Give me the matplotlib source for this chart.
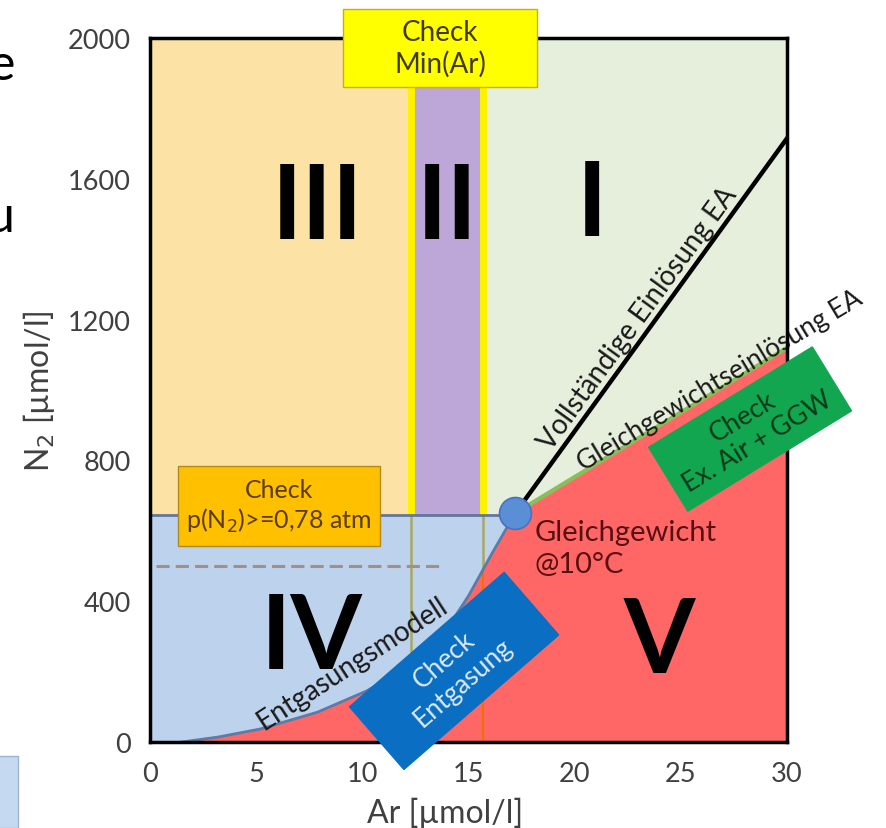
import numpy as np
import matplotlib
matplotlib.use('Agg')
import matplotlib.pyplot as plt
import matplotlib.patches as mpatches
import matplotlib.transforms as mtransforms

plt.rcParams['font.family'] = ['Lato', 'DejaVu Sans']

# boundaries in µmol/l
n2_air = 645                 # p(N2) = 0,78 atm
ar_min = [12.3, 15.7]        # Check Min(Ar) band
eq_ar, eq_n2 = 17.2, 650     # Gleichgewicht @10°C
ea_full_n2_end = 1715        # Vollständige Einlösung EA at Ar=30
ea_equil_n2_end = 1120       # Gleichgewichtseinlösung EA at Ar=30
n2_dashed = 500
dashed_ar = [0.3, 13.6]

# Entgasungsmodell curve
degas_ar = [1.5, 3.2, 5.2, 7.9, 10.2, 12.2, 13.7, 15.0, 16.1, 17.2]
degas_n2 = [0, 14, 37, 85, 145, 215, 295, 415, 535, 650]

# region labels
regions = ['III', 'II', 'I', 'IV', 'V']
region_ar = [7.9, 14.0, 20.8, 7.6, 24.0]
region_n2 = [1518, 1518, 1525, 295, 285]

xticks = [0, 5, 10, 15, 20, 25, 30]
yticks = [0, 400, 800, 1200, 1600, 2000]

fig = plt.figure(figsize=(8.86, 8.29), dpi=100)
ax = fig.add_axes([150/886, 86/829, 637/886, 704/829])
ax.set_xlim(0, 30)
ax.set_ylim(0, 2000)

# background regions
ax.set_facecolor('#E6EEDC')
ax.fill_between([0, ar_min[0]], n2_air, 2000, color='#FDE2A6', lw=0)
ax.fill_between(ar_min, n2_air, 2000, color='#BDA6D8', lw=0)
ax.fill_between([0, eq_ar], 0, n2_air, color='#BDD2EC', lw=0)
red_x = degas_ar + [30, 30]
red_y = degas_n2 + [ea_equil_n2_end, 0]
ax.fill(red_x, red_y, color='#FF6767', lw=0)

# lines
ax.vlines(ar_min, n2_air, 2000, color='#FFF200', lw=5, zorder=3)
curve_at_min = np.interp(ar_min, degas_ar, degas_n2)
ax.vlines(ar_min, curve_at_min, n2_air, color='#A8A860', lw=1.8, zorder=3)
ax.vlines(ar_min, 0, curve_at_min, color='#F07000', lw=1.5, zorder=3)
ax.hlines(n2_air, 0, eq_ar, color='#62769A', lw=2, zorder=3)
ax.hlines(n2_dashed, dashed_ar[0], dashed_ar[1], colors='#A09088', lw=2.2,
          linestyles=(0, (4.3, 2)), zorder=3)
ax.plot(degas_ar, degas_n2, color='#5A7CA8', lw=2, zorder=3)
ax.plot([eq_ar, 30], [eq_n2, ea_full_n2_end], color='black', lw=3.2, zorder=4)
ax.plot([eq_ar, 30], [eq_n2, ea_equil_n2_end], color='#86C05A', lw=3, zorder=4)
ax.plot(eq_ar, eq_n2, 'o', ms=23, mfc='#5B8FD5', mec='#4472C4', mew=1.2, zorder=6)

for lab, x, y in zip(regions, region_ar, region_n2):
    ax.text(x, y, lab, fontsize=74, fontweight='bold', ha='center', va='center', zorder=4)


def rot_box(x, y, w, h, angle, fc, ec, text, tc, fs):
    tr = (mtransforms.Affine2D().rotate_deg(angle)
          + mtransforms.ScaledTranslation(x, y, ax.transData))
    ax.add_patch(mpatches.Rectangle((-w/2, -h/2), w, h, transform=tr, fc=fc, ec=ec,
                                    lw=1, clip_on=False, zorder=7))
    ax.text(x, y, text, rotation=angle, rotation_mode='anchor', ha='center', va='center',
            color=tc, fontsize=fs, linespacing=1.2, zorder=8)


rot_box(6.08, 670, 202, 80, 0, '#FFC000', '#B08A20', 'Check\np(N$_2$)>=0,78 atm', '#5C3C00', 18)
rot_box(13.66, 1972, 194, 78, 0, '#FFFF00', '#C8B400', 'Check\nMin(Ar)', '#403C00', 20)
rot_box(14.32, 202, 205, 83, 41, '#0A6FC2', '#0A6FC2', 'Check\nEntgasung', '#DCE9F7', 19)
rot_box(28.26, 889, 192, 75, 31.5, '#13A651', '#13A651', 'Check\nEx. Air + GGW', '#083A18', 19)

ax.text(18.13, 551, 'Gleichgewicht\n@10°C', color='#5A1010', fontsize=21,
        ha='left', va='center', linespacing=1.25, zorder=5)
ax.text(23.0, 1205, 'Vollständige Einlösung EA', rotation=54, fontsize=20,
        color='#1A1A1A', ha='center', va='center', zorder=5)
ax.text(26.85, 1028, 'Gleichgewichtseinlösung EA', rotation=31, fontsize=19,
        color='#1A1A1A', ha='center', va='center', zorder=5)
ax.text(9.55, 225, 'Entgasungsmodell', rotation=33, fontsize=20,
        color='#1A1A1A', ha='center', va='center', zorder=5)

ax.set_xticks(xticks)
ax.set_yticks(yticks)
ax.tick_params(length=0, pad=14, labelsize=19.5, labelcolor='#404040')
for s in ax.spines.values():
    s.set_linewidth(2.5)
    s.set_zorder(6)
ax.set_xlabel('Ar [µmol/l]', fontsize=23, color='#404040')
ax.xaxis.set_label_coords(0.463, -0.077)
ax.set_ylabel('N$_2$ [µmol/l]', fontsize=23, color='#404040')
ax.yaxis.set_label_coords(-0.146, 0.5)

# fragments of the neighbouring slide content
fig.text(15/886, 1 - 80/829, 'e', fontsize=36, ha='right', va='baseline')
fig.text(15/886, 1 - 232/829, 'u', fontsize=36, ha='right', va='baseline')
fig.patches.append(mpatches.Rectangle((-0.01, 0), 0.03, 72/829, transform=fig.transFigure,
                                      fc='#C5DAF0', ec='#9DB5D0', lw=1))

fig.savefig('out.png', dpi=100)
